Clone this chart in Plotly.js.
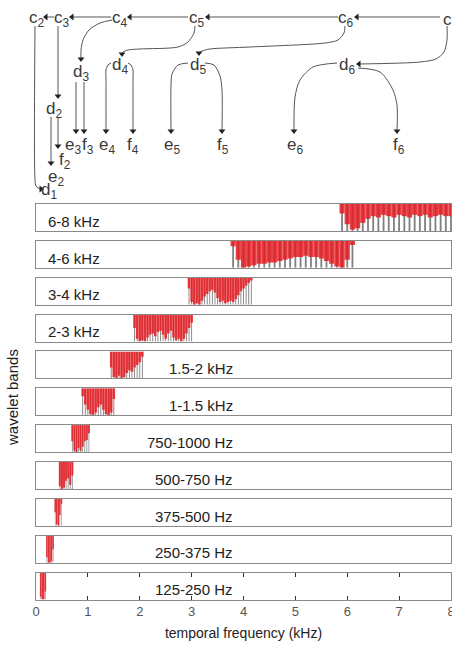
<!DOCTYPE html>
<html><head><meta charset="utf-8">
<script src="https://cdn.plot.ly/plotly-3.0.1.min.js"></script>
<style>html,body{margin:0;padding:0;background:#fff;}#chart{width:452px;height:645px;}</style>
</head><body><div id="chart"></div>
<script>
// ---------- DATA ----------
const bandLabels = ["6-8 kHz","4-6 kHz","3-4 kHz","2-3 kHz","1.5-2 kHz","1-1.5 kHz","750-1000 Hz","500-750 Hz","375-500 Hz","250-375 Hz","125-250 Hz"];

const freq_6_8  = [5.9,6.0,6.1,6.2,6.3,6.4,6.5,6.6,6.7,6.8,6.9,7.0,7.1,7.2,7.3,7.4,7.5,7.6,7.7,7.8,7.9,8.0];
const depth_6_8 = [0.35,0.75,0.95,0.9,0.7,0.55,0.45,0.5,0.4,0.45,0.5,0.4,0.45,0.5,0.4,0.45,0.4,0.5,0.45,0.4,0.45,0.45];

const freq_4_6  = [3.8,3.9,4.0,4.1,4.2,4.3,4.4,4.5,4.6,4.7,4.8,4.9,5.0,5.1,5.2,5.3,5.4,5.5,5.6,5.7,5.8,5.9,6.0,6.1];
const depth_4_6 = [0.2,0.7,1.0,0.95,0.9,0.85,0.85,0.8,0.8,0.75,0.7,0.65,0.6,0.6,0.55,0.6,0.6,0.65,0.75,0.85,0.95,1.0,0.7,0.15];

const freq_3_4  = [2.95,3.0,3.05,3.1,3.15,3.2,3.25,3.3,3.35,3.4,3.45,3.5,3.55,3.6,3.65,3.7,3.75,3.8,3.85,3.9,3.95,4.0,4.05,4.1,4.15];
const depth_3_4 = [0.4,0.9,1.0,0.95,1.0,0.85,0.7,0.6,0.5,0.45,0.55,0.75,0.9,0.85,0.95,0.9,0.85,0.9,0.8,0.65,0.5,0.4,0.3,0.2,0.1];

const freq_2_3  = [1.9,1.95,2.0,2.05,2.1,2.15,2.2,2.25,2.3,2.35,2.4,2.45,2.5,2.55,2.6,2.65,2.7,2.75,2.8,2.85,2.9,2.95,3.0];
const depth_2_3 = [0.5,0.9,1.0,0.95,1.0,0.85,0.75,0.7,0.8,0.65,0.6,0.75,0.9,0.7,0.6,0.85,0.95,0.9,1.0,0.9,0.7,0.5,0.3];

const freq_15_2  = [1.45,1.5,1.55,1.6,1.65,1.7,1.75,1.8,1.85,1.9,1.95,2.0,2.05];
const depth_15_2 = [0.6,0.95,1.0,0.9,1.0,0.95,0.8,0.7,0.75,0.6,0.5,0.4,0.2];

const freq_1_15  = [0.9,0.95,1.0,1.05,1.1,1.15,1.2,1.25,1.3,1.35,1.4,1.45,1.5];
const depth_1_15 = [0.3,0.6,0.8,0.95,1.0,0.9,0.7,0.6,0.8,0.95,1.0,0.9,0.4];

const freq_750_1000  = [0.70,0.74,0.78,0.82,0.86,0.90,0.94,0.98,1.02];
const depth_750_1000 = [0.6,0.95,1.0,0.85,0.95,0.8,0.6,0.55,0.3];

const freq_500_750  = [0.46,0.50,0.54,0.58,0.62,0.66,0.70];
const depth_500_750 = [0.9,1.0,0.95,0.7,0.6,0.85,0.5];

const freq_375_500  = [0.37,0.40,0.43,0.46,0.49];
const depth_375_500 = [0.5,0.95,1.0,0.6,0.2];

const freq_250_375  = [0.21,0.24,0.27,0.30,0.33];
const depth_250_375 = [0.8,1.0,1.0,0.95,0.5];

const freq_125_250  = [0.09,0.12,0.15,0.18];
const depth_125_250 = [0.9,1.0,1.0,0.7];

const xTickVals = [0,1,2,3,4,5,6,7,8];

const bandFreqs  = [freq_6_8,freq_4_6,freq_3_4,freq_2_3,freq_15_2,freq_1_15,freq_750_1000,freq_500_750,freq_375_500,freq_250_375,freq_125_250];
const bandDepths = [depth_6_8,depth_4_6,depth_3_4,depth_2_3,depth_15_2,depth_1_15,depth_750_1000,depth_500_750,depth_375_500,depth_250_375,depth_125_250];

// ---------- STYLE / LAYOUT ----------
const barStep = [0.1,0.1,0.05,0.05,0.05,0.05,0.04,0.04,0.03,0.03,0.03];
const W = 452, H = 645;
const plotLeft = 36, plotRight = 451;
const firstTop = 204, panelPitch = 36.85, panelH = 27;
const FONT = "Liberation Sans, Arial, sans-serif";

// tree diagram geometry (pixel positions in figure)
const nodeText = ["c<sub>2</sub>","c<sub>3</sub>","c<sub>4</sub>","c<sub>5</sub>","c<sub>6</sub>","c",
  "d<sub>3</sub>","d<sub>4</sub>","d<sub>5</sub>","d<sub>6</sub>","d<sub>2</sub>","d<sub>1</sub>",
  "e<sub>3</sub>","f<sub>3</sub>","e<sub>4</sub>","f<sub>4</sub>","e<sub>5</sub>","f<sub>5</sub>","e<sub>6</sub>","f<sub>6</sub>",
  "f<sub>2</sub>","e<sub>2</sub>"];
const nodePX = [37,62,120,197,346,447, 81,120,198,347,54,49, 73,88,107,133,172,223,295,399, 65,56];
const nodePY = [19,19,19,19,19,19, 73,66,66,66,110,191, 146,146,146,146,146,146,146,146, 161,178];
const edges = [
  {x:[440,357], y:[17,17], h:"triangle-left"},
  {x:[338,208], y:[17,17], h:"triangle-left"},
  {x:[188,130], y:[17,17], h:"triangle-left"},
  {x:[111,72],  y:[17,17], h:"triangle-left"},
  {x:[54,46],   y:[17,17], h:"triangle-left"},
  {x:[447,447,444,436,420,359], y:[26,40,52,59,62,64], h:"triangle-left"},
  {x:[345,344,338,325,250,210,202,199], y:[26,33,40,43,47,49,51,53], h:"triangle-down"},
  {x:[195,194,188,178,140,128,123,122], y:[26,33,42,47,49,50,52,54], h:"triangle-down"},
  {x:[112,100,89,83,81,81], y:[20,23,30,40,50,59], h:"triangle-down"},
  {x:[58,58], y:[26,96], h:"triangle-down"},
  {x:[35,35,36,38,41], y:[26,180,186,188,189], h:"triangle-right"},
  {x:[51,51], y:[117,163], h:"triangle-down"},
  {x:[58,58], y:[117,146], h:"triangle-down"},
  {x:[76,76], y:[82,131], h:"triangle-down"},
  {x:[84,84], y:[82,131], h:"triangle-down"},
  {x:[111,108,106,106,106], y:[63,65,70,80,131], h:"triangle-down"},
  {x:[128,131,133,133,133], y:[63,65,70,80,131], h:"triangle-down"},
  {x:[188,178,172,171,171], y:[63,65,74,85,131], h:"triangle-down"},
  {x:[205,214,220,222,222], y:[63,65,76,90,131], h:"triangle-down"},
  {x:[337,313,300,295,294], y:[63,67,80,97,131], h:"triangle-down"},
  {x:[358,380,393,397,397], y:[68,72,90,105,131], h:"triangle-down"}
];

const traces = [];
const layout = {
  width: W, height: H,
  margin: {l:0, r:0, t:0, b:0},
  paper_bgcolor: "#ffffff",
  plot_bgcolor: "rgba(0,0,0,0)",
  showlegend: false,
  barmode: "overlay",
  font: {family: FONT, color: "#333"},
  annotations: []
};

for (let i = 0; i < 11; i++) {
  const n = i + 1;
  const xa = n === 1 ? "x" : "x" + n;
  const ya = n === 1 ? "y" : "y" + n;
  const top = firstTop + i * panelPitch;
  const bot = top + panelH;
  const isBottom = i === 10;
  layout["xaxis" + (n === 1 ? "" : n)] = {
    domain: [plotLeft / W, plotRight / W],
    range: [0, 8.0001], anchor: ya,
    showgrid: false, zeroline: false,
    showline: true, mirror: isBottom ? "ticks" : true,
    linecolor: "#8a8a8a", linewidth: 1,
    ticks: isBottom ? "inside" : "", ticklen: 4, tickcolor: "#333",
    tickvals: xTickVals,
    showticklabels: isBottom,
    ticklabeloverflow: "allow",
    tickfont: {size: 13, color: "#555", family: FONT},
    title: isBottom ? {text: "temporal frequency (kHz)", font: {size: 14, color: "#222", family: FONT}, standoff: 10} : {text: ""},
    fixedrange: true
  };
  layout["yaxis" + (n === 1 ? "" : n)] = {
    domain: [1 - bot / H, 1 - top / H],
    range: [0, 1], anchor: xa,
    showgrid: false, zeroline: false,
    showline: true, mirror: true, linecolor: "#8a8a8a", linewidth: 1,
    ticks: "", showticklabels: false, fixedrange: true
  };
  const f = bandFreqs[i], d = bandDepths[i], s = barStep[i];
  traces.push({
    type: "bar", x: f, y: f.map(() => 1), base: 0,
    xaxis: xa, yaxis: ya, width: s * 0.35,
    marker: {color: "rgba(85,85,85,0.75)", line: {width: 0}},
    hoverinfo: "skip"
  });
  traces.push({
    type: "bar", x: f, y: d.map(v => -v), base: 1,
    xaxis: xa, yaxis: ya, width: s,
    marker: {color: "rgba(228,28,34,0.85)", line: {width: 0}},
    hoverinfo: "skip"
  });
  const leftLabel = i < 4;
  layout.annotations.push({
    xref: xa, yref: ya,
    x: leftLabel ? 0.2 : 3.83, y: 0.36,
    xanchor: leftLabel ? "left" : "right", yanchor: "middle",
    text: bandLabels[i], showarrow: false,
    font: {size: 15, color: "#222", family: FONT}
  });
}

// y axis title
layout.annotations.push({
  xref: "paper", yref: "paper", x: 12 / W, y: 1 - 398 / H,
  text: "wavelet bands", textangle: -90, showarrow: false,
  xanchor: "center", yanchor: "middle",
  font: {size: 15, color: "#222", family: FONT}
});

// tree overlay axis in pixel units
layout.xaxis12 = {domain: [0, 1], range: [0, W], anchor: "y12", visible: false, fixedrange: true};
layout.yaxis12 = {domain: [0, 1], range: [H, 0], anchor: "x12", visible: false, fixedrange: true};

const headX = [], headY = [], headS = [];
edges.forEach(e => {
  traces.push({
    type: "scatter", mode: "lines", x: e.x, y: e.y, xaxis: "x12", yaxis: "y12",
    line: {color: "#555", width: 1, shape: "spline", smoothing: 0.8},
    hoverinfo: "skip"
  });
  headX.push(e.x[e.x.length - 1]); headY.push(e.y[e.y.length - 1]); headS.push(e.h);
});
traces.push({
  type: "scatter", mode: "markers", x: headX, y: headY, xaxis: "x12", yaxis: "y12",
  marker: {symbol: headS, size: 6, color: "#222"}, hoverinfo: "skip"
});
nodeText.forEach((t, k) => {
  layout.annotations.push({
    xref: "x12", yref: "y12", x: nodePX[k], y: nodePY[k],
    text: t, showarrow: false, xanchor: "center", yanchor: "middle",
    font: {size: 17, color: "#3a3a3a", family: FONT}
  });
});

Plotly.newPlot("chart", traces, layout, {staticPlot: true, displayModeBar: false});
</script>
</body></html>
